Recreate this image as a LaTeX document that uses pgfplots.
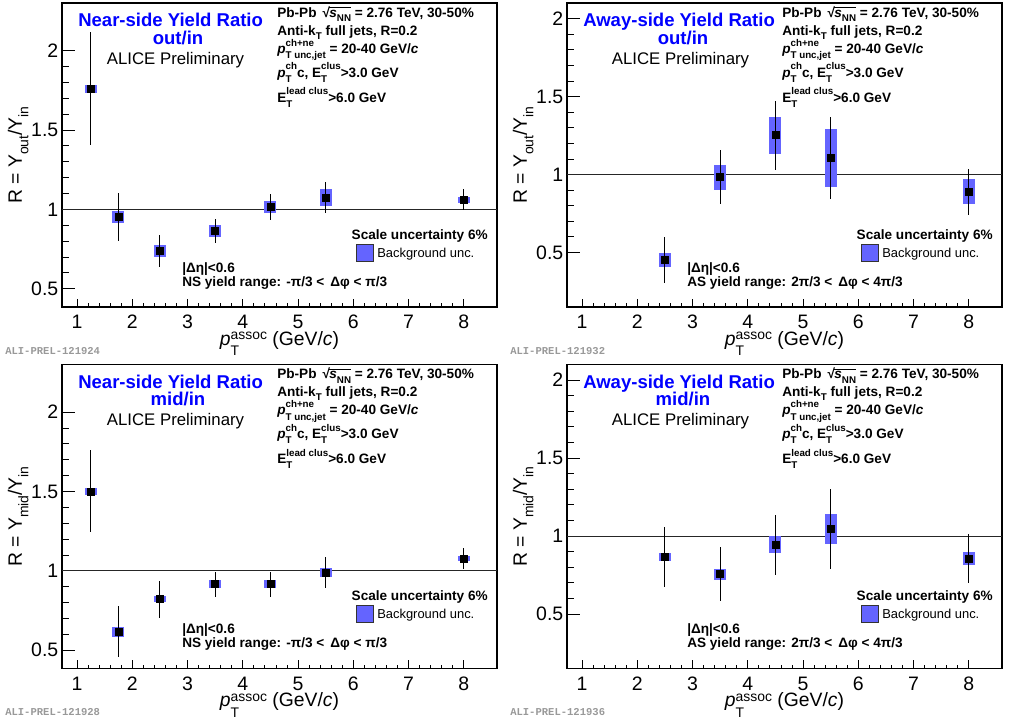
\documentclass[border=0pt]{standalone}
\usepackage{amsmath}
\usepackage{fontspec}
\setmainfont{Liberation Sans}
\newfontfamily\monofont{Liberation Mono}
\usepackage{pgfplots}
\pgfplotsset{compat=1.18}
\usepackage{pgfplotstable}

\definecolor{bgunc}{RGB}{100,100,255}
\definecolor{rootblue}{RGB}{0,0,255}

% smaller size for indices, ROOT-like stacked superscript/subscript
\newcommand{\sm}{\fontsize{\fpeval{0.72*\csname f@size\endcsname}}{1}\selectfont}
\newcommand{\supsubx}[4]{\sbox0{\raisebox{#1}{\sm #3}}\sbox2{\raisebox{#2}{\sm #4}}%
  \rlap{\usebox0}\rlap{\usebox2}\ifdim\wd0>\wd2 \hskip\wd0\else\hskip\wd2\fi\relax}
\newcommand{\supsub}{\supsubx{0.52em}{-0.40em}}
\newcommand{\low}[1]{\raisebox{-0.33em}{\sm #1}}
% square root drawn with the text font
\newcommand{\rootof}[1]{√\kern-0.05em\vbox{\hrule height 0.07em\kern0.12em\hbox{#1}}}

% x, ratio, stat. error, background unc.
\pgfplotstableread{
x    y     ey    es
1.25 1.761 0.354 0.025
1.75 0.952 0.150 0.036
2.5  0.738 0.098 0.040
3.5  0.864 0.073 0.040
4.5  1.015 0.080 0.040
5.5  1.075 0.100 0.052
8    1.061 0.068 0.020
}\nsout
\pgfplotstableread{
x    y     ey    es
2.5  0.451 0.145 0.047
3.5  0.983 0.171 0.081
4.5  1.252 0.220 0.120
5.5  1.105 0.262 0.186
8    0.889 0.146 0.081
}\asout
\pgfplotstableread{
x    y     ey    es
1.25 1.501 0.258 0.022
1.75 0.616 0.160 0.030
2.5  0.822 0.116 0.021
3.5  0.916 0.080 0.024
4.5  0.916 0.080 0.024
5.5  0.990 0.096 0.027
8    1.078 0.068 0.018
}\nsmid
\pgfplotstableread{
x    y     ey    es
2.5  0.866 0.194 0.026
3.5  0.755 0.175 0.036
4.5  0.943 0.192 0.054
5.5  1.045 0.254 0.098
8    0.855 0.157 0.041
}\asmid

\pgfplotsset{
  alice/.style={
    scale only axis, width=326.25pt, height=228pt,
    anchor=south west,
    xmin=0.73, xmax=8.6,
    xtick={1,...,8}, minor x tick num=4,
    ytick={0.5,1,1.5,2}, minor y tick num=4,
    tick align=inside, xtick pos=bottom, ytick pos=left,
    axis line style={line width=0.9pt},
    tick style={black, line width=0.6pt},
    major tick length=9.5pt, minor tick length=5pt,
    x tick style={/pgfplots/major tick length=6.2pt, /pgfplots/minor tick length=3pt},
    /pgf/number format/assume math mode=true,
    ticklabel style={font=\fontsize{14.6}{16}\selectfont},
    yticklabel style={inner sep=0pt, xshift=-2.6pt},
    xticklabel style={inner sep=0pt, yshift=-6pt},
    xlabel={\textit{p}\supsubx{0.28em}{-0.55em}{assoc}{T} (GeV/\textit{c})},
    xlabel style={at={(axis description cs:0.5,-0.125)}, anchor=base,
      font=\fontsize{14.5}{16}\selectfont},
    ylabel style={at={(axis description cs:-0.092,0.5)}, anchor=base,
      font=\fontsize{14.5}{16}\selectfont},
  },
  nsrange/.style={ymin=0.385, ymax=2.3},
  asrange/.style={ymin=0.15, ymax=2.1},
}

% one panel: position, y range style, y label, table
\newcommand{\panel}[4]{%
\begin{axis}[alice, at={#1}, #2, ylabel={#3}]
\addplot[black!85, line width=0.75pt, forget plot] coordinates {(0.73,1) (8.6,1)};
\addplot[draw=none, mark=none, forget plot,
  error bars/.cd, y dir=both, y explicit, error mark=none,
  error bar style={line width=9.1pt, draw=bgunc, line cap=butt, solid}]
  table[x=x, y=y, y error=es] {#4};
\addplot[only marks, mark=square*, mark size=2.6pt, black,
  error bars/.cd, y dir=both, y explicit, error mark=none,
  error bar style={line width=0.75pt, black}]
  table[x=x, y=y, y error=ey] {#4};
\end{axis}}

% texts of one panel, in pixels of the reference
\newcommand{\paneltexts}[6]{%
\begin{scope}[x=0.75pt, y=-0.75pt, shift={(#1,#2)}, every node/.style={inner sep=0pt}]
\node[anchor=base west, text=rootblue, font=\bfseries\fontsize{13.9}{16}\selectfont] at (78,26.7) {#3};
\node[anchor=base, text=rootblue, font=\bfseries\fontsize{13.9}{16}\selectfont] at (178,44.3) {#4};
\node[anchor=base, font=\fontsize{12.6}{14}\selectfont] at (175.5,64.3) {ALICE Preliminary};
\begin{scope}[every node/.append style={anchor=base west, font=\bfseries\fontsize{10.2}{12}\selectfont}]
\node at (277,17.3) {Pb-Pb\, \rootof{\textit{s}\low{NN}} = 2.76 TeV, 30-50\%};
\node at (277,35) {Anti-k\low{T} full jets, R=0.2};
\node at (277,53.3) {\textit{p}\supsub{ch+ne}{T unc,jet} = 20-40 GeV/\textit{c}};
\node at (277,77) {\textit{p}\supsub{ch}{T}c, E\supsub{clus}{T}>3.0 GeV};
\node at (277,102) {E\supsub{lead clus}{T}>6.0 GeV};
\node at (182,272) {|Δη|<0.6};
\node at (182,286) {#5};
\end{scope}
\node[anchor=base east, font=\bfseries\fontsize{10.2}{12}\selectfont] at (488,239) {Scale uncertainty 6\%};
\filldraw[fill=bgunc, draw=black!80, line width=0.6pt] (356,244) rectangle (373,261);
\node[anchor=base west, font=\fontsize{9.7}{11}\selectfont] at (377,257) {Background unc.};
\node[anchor=base west, text=black!40, font=\monofont\bfseries\fontsize{7.9}{9}\selectfont] at (5,354) {#6};
\end{scope}}

\begin{document}
\begin{tikzpicture}
\path[use as bounding box] (0,0) rectangle (756.75pt,-541.5pt);
\panel{(46.5pt,-230.25pt)}{nsrange}{R = Y\low{out}/Y\low{in}}{\nsout}
\panel{(425.25pt,-230.25pt)}{asrange}{R = Y\low{out}/Y\low{in}}{\asout}
\panel{(46.5pt,-501.375pt)}{nsrange}{R = Y\low{mid}/Y\low{in}}{\nsmid}
\panel{(425.25pt,-501.375pt)}{asrange}{R = Y\low{mid}/Y\low{in}}{\asmid}
\paneltexts{0}{0}{Near-side Yield Ratio}{out/in}{NS yield range: -π/3 <\, Δφ < π/3}{ALI-PREL-121924}
\paneltexts{505}{0}{Away-side Yield Ratio}{out/in}{AS yield range: 2π/3 <\, Δφ < 4π/3}{ALI-PREL-121932}
\paneltexts{0}{361.5}{Near-side Yield Ratio}{mid/in}{NS yield range: -π/3 <\, Δφ < π/3}{ALI-PREL-121928}
\paneltexts{505}{361.5}{Away-side Yield Ratio}{mid/in}{AS yield range: 2π/3 <\, Δφ < 4π/3}{ALI-PREL-121936}
\end{tikzpicture}
\end{document}
